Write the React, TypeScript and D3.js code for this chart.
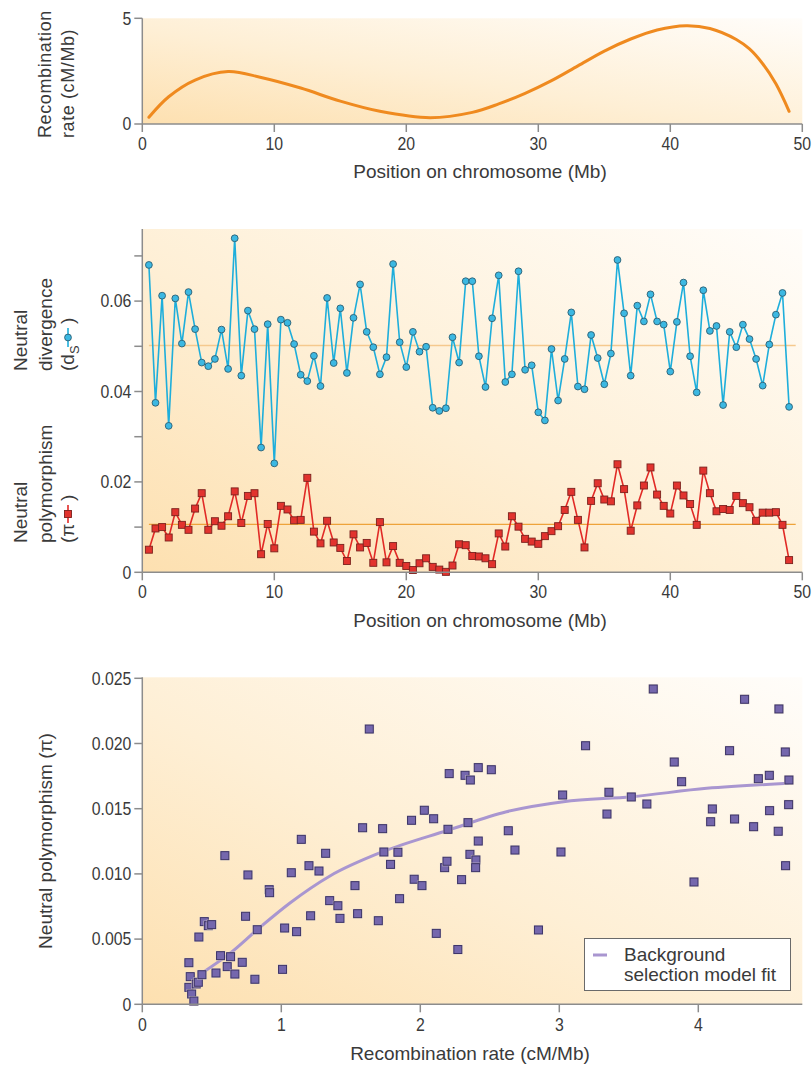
import React from 'react';
import * as d3 from 'd3';

// ---------- Panel a: recombination rate along chromosome ----------
const recombPos = [0.5, 2, 4, 6.5, 9, 12, 15, 18, 21.8, 25, 27, 29, 31, 33, 35, 37, 39, 41.2, 43, 45, 46, 47, 48, 49];
const recombRate = [0.32, 1.29, 2.08, 2.48, 2.2, 1.7, 1.08, 0.6, 0.3, 0.55, 0.95, 1.45, 2.05, 2.75, 3.45, 4.02, 4.45, 4.65, 4.52, 4.0, 3.55, 2.85, 1.9, 0.6];

// ---------- Panel b: divergence and polymorphism ----------
const positions = [
  0.5, 1, 1.5, 2, 2.5, 3, 3.5, 4, 4.5, 5, 5.5, 6, 6.5, 7, 7.5, 8, 8.5, 9, 9.5, 10,
  10.5, 11, 11.5, 12, 12.5, 13, 13.5, 14, 14.5, 15, 15.5, 16, 16.5, 17, 17.5, 18, 18.5, 19, 19.5, 20,
  20.5, 21, 21.5, 22, 22.5, 23, 23.5, 24, 24.5, 25, 25.5, 26, 26.5, 27, 27.5, 28, 28.5, 29, 29.5, 30,
  30.5, 31, 31.5, 32, 32.5, 33, 33.5, 34, 34.5, 35, 35.5, 36, 36.5, 37, 37.5, 38, 38.5, 39, 39.5, 40,
  40.5, 41, 41.5, 42, 42.5, 43, 43.5, 44, 44.5, 45, 45.5, 46, 46.5, 47, 47.5, 48, 48.5, 49,
];
const divergence = [
  0.0680, 0.0375, 0.0612, 0.0324, 0.0606, 0.0506, 0.0620, 0.0538, 0.0464, 0.0456,
  0.0472, 0.0537, 0.0450, 0.0739, 0.0435, 0.0579, 0.0538, 0.0276, 0.0549, 0.0241,
  0.0559, 0.0552, 0.0505, 0.0437, 0.0423, 0.0479, 0.0412, 0.0607, 0.0463, 0.0584,
  0.0441, 0.0563, 0.0637, 0.0532, 0.0498, 0.0438, 0.0476, 0.0682, 0.0509, 0.0454,
  0.0532, 0.0488, 0.0499, 0.0364, 0.0357, 0.0363, 0.0520, 0.0464, 0.0644, 0.0644,
  0.0478, 0.0410, 0.0562, 0.0657, 0.0421, 0.0438, 0.0666, 0.0448, 0.0458, 0.0354,
  0.0336, 0.0494, 0.0380, 0.0472, 0.0575, 0.0411, 0.0405, 0.0525, 0.0474, 0.0416,
  0.0484, 0.0691, 0.0573, 0.0435, 0.0590, 0.0555, 0.0615, 0.0555, 0.0548, 0.0444,
  0.0554, 0.0641, 0.0478, 0.0398, 0.0624, 0.0534, 0.0545, 0.0370, 0.0532, 0.0498,
  0.0548, 0.0516, 0.0472, 0.0413, 0.0504, 0.0570, 0.0618, 0.0366,
];
const polymorphism = [
  0.0050, 0.0097, 0.0100, 0.0077, 0.0133, 0.0105, 0.0094, 0.0141, 0.0175, 0.0094,
  0.0113, 0.0103, 0.0124, 0.0179, 0.0109, 0.0169, 0.0175, 0.0040, 0.0107, 0.0053,
  0.0147, 0.0139, 0.0115, 0.0116, 0.0209, 0.0090, 0.0064, 0.0114, 0.0066, 0.0054,
  0.0025, 0.0084, 0.0055, 0.0065, 0.0021, 0.0111, 0.0022, 0.0058, 0.0021, 0.0014,
  0.0005, 0.0020, 0.0031, 0.0012, 0.0006, 0.0001, 0.0015, 0.0062, 0.0060, 0.0036,
  0.0035, 0.0031, 0.0018, 0.0086, 0.0057, 0.0124, 0.0101, 0.0074, 0.0068, 0.0063,
  0.0080, 0.0091, 0.0102, 0.0138, 0.0178, 0.0116, 0.0055, 0.0158, 0.0197, 0.0161,
  0.0157, 0.0239, 0.0184, 0.0092, 0.0148, 0.0192, 0.0232, 0.0172, 0.0147, 0.0130,
  0.0192, 0.0170, 0.0151, 0.0105, 0.0225, 0.0175, 0.0135, 0.0140, 0.0138, 0.0169,
  0.0153, 0.0144, 0.0114, 0.0132, 0.0132, 0.0133, 0.0105, 0.0027,
];
const divergenceMean = 0.0502;
const polymorphismMean = 0.0106;

// ---------- Panel c: polymorphism vs recombination ----------
const scatterRate = [
  0.335, 0.345, 0.335, 0.355, 0.371, 0.388, 0.403, 0.429, 0.407, 0.446,
  0.475, 0.499, 0.530, 0.563, 0.611, 0.635, 0.666, 0.719, 0.743, 0.810,
  0.827, 0.594, 0.760, 0.913, 0.916, 1.009, 1.024, 1.110, 1.072, 1.144,
  1.199, 1.211, 1.271, 1.319, 1.348, 1.407, 1.422, 1.530, 1.549, 1.585,
  1.633, 1.698, 1.729, 1.738, 1.786, 1.839, 1.851, 1.937, 1.956, 2.012,
  2.029, 2.096, 2.115, 2.175, 2.192, 2.199, 2.208, 2.322, 2.360, 2.417,
  2.511, 2.343, 2.417, 2.633, 2.357, 2.400, 2.398, 2.297, 2.681, 3.012,
  3.024, 3.189, 3.357, 3.343, 3.518, 3.630, 3.676, 3.827, 3.880, 3.969,
  4.101, 4.089, 4.225, 4.261, 4.333, 4.398, 4.432, 4.511, 4.513, 4.580,
  4.575, 4.626, 4.652, 4.650, 4.628, 2.270, 2.850,
];
const scatterPi = [
  0.00319, 0.00212, 0.00130, 0.00079, 0.00025, 0.00156, 0.00169, 0.00227, 0.00516, 0.00634,
  0.00603, 0.00611, 0.00240, 0.00373, 0.00289, 0.00365, 0.00232, 0.00322, 0.00675, 0.00192,
  0.00572, 0.01140, 0.00992, 0.00879, 0.00856, 0.00268, 0.00585, 0.00557, 0.01009, 0.01265,
  0.01063, 0.00679, 0.01022, 0.01158, 0.00795, 0.00756, 0.00659, 0.00910, 0.00695, 0.01354,
  0.02111, 0.00641, 0.01347, 0.01168, 0.01073, 0.01166, 0.00810, 0.01411, 0.00959, 0.00910,
  0.01488, 0.01423, 0.00544, 0.01048, 0.01097, 0.01342, 0.01769, 0.01756, 0.01720, 0.01815,
  0.01799, 0.01393, 0.01252, 0.01331, 0.01150, 0.01107, 0.01048, 0.00956, 0.01183, 0.01168,
  0.01605, 0.01983, 0.01626, 0.01459, 0.01590, 0.01536, 0.02418, 0.01858, 0.01707, 0.00938,
  0.01498, 0.01400, 0.01945, 0.01421, 0.02339, 0.01362, 0.01730, 0.01756, 0.01485, 0.02265,
  0.01327, 0.01935, 0.01720, 0.01531, 0.01063, 0.00420, 0.00570,
];
const fitRate = [0.43, 0.63, 0.83, 1.06, 1.35, 1.73, 2.2, 2.62, 3.03, 3.52, 4.06, 4.65];
const fitPi = [0.0024, 0.0039, 0.00575, 0.00775, 0.00984, 0.0117, 0.01335, 0.01477, 0.01554, 0.01592, 0.01656, 0.01695];

const topTicksX = [0, 10, 20, 30, 40, 50];
const topTicksY = [0, 5];
const midTicksMajor = [0, 0.02, 0.04, 0.06];
const midTicksMinor = [0.01, 0.03, 0.05, 0.07];
const botTicksX = [0, 1, 2, 3, 4];
const botTicksY = [0, 0.005, 0.01, 0.015, 0.02, 0.025];

const TXT = '#3a3a3a';
const AX = '#8c8c8c';
const TITLE_FONT = '"Liberation Sans", Arial, sans-serif';
const TICK_FONT = '"Liberation Sans", Arial, sans-serif';

const L = 142.3;
const R = 802.3;

function Gradient({ id }: { id: string }) {
  return (
    <linearGradient id={id} x1="0" y1="1" x2="1" y2="0">
      <stop offset="0" stopColor="#fde0b0" />
      <stop offset="0.45" stopColor="#feefd5" />
      <stop offset="1" stopColor="#fffdfa" />
    </linearGradient>
  );
}

function TickText(props: any) {
  // slightly condensed numerals, like the reference
  const { x, y, anchor, children, dy } = props;
  return (
    <text
      transform={`translate(${x},${y}) scale(0.88,1)`}
      dy={dy}
      textAnchor={anchor}
      fontFamily={TICK_FONT}
      fontSize={18}
      fill={TXT}
    >
      {children}
    </text>
  );
}

export default function App() {
  // panel a
  const xa = d3.scaleLinear().domain([0, 50]).range([L, R]);
  const ya = d3.scaleLinear().domain([0, 5]).range([124, 18.3]);
  const recombLine = d3
    .line<number>()
    .x((_, i) => xa(recombPos[i]))
    .y((d) => ya(d))
    .curve(d3.curveCatmullRom.alpha(0.5))(recombRate) as string;

  // panel b
  const xb = d3.scaleLinear().domain([0, 50]).range([L, R]);
  const yb = d3.scaleLinear().domain([0, 0.01]).range([572.3, 527.1]);
  const yTopB = 229;
  const divLine = d3
    .line<number>()
    .x((_, i) => xb(positions[i]))
    .y((d) => yb(d))(divergence) as string;
  const polyLine = d3
    .line<number>()
    .x((_, i) => xb(positions[i]))
    .y((d) => yb(d))(polymorphism) as string;

  // panel c
  const xc = d3.scaleLinear().domain([0, 1]).range([L, L + 139]);
  const yc = d3.scaleLinear().domain([0, 0.025]).range([1004.3, 678.3]);
  const yTopC = 677.3;
  const fitLine = d3
    .line<number>()
    .x((_, i) => xc(fitRate[i]))
    .y((d) => yc(d))
    .curve(d3.curveMonotoneX)(fitPi) as string;

  const tickLen = 8;
  const sq = 7;
  const psq = 8;

  return (
    <svg
      width={812}
      height={1068}
      style={{ position: 'absolute', left: 0, top: 0, background: '#fff' }}
    >
      <defs>
        <Gradient id="ga" />
        <Gradient id="gb" />
        <Gradient id="gc" />
      </defs>

      {/* ================= Panel a ================= */}
      <rect x={L} y={ya(5)} width={R - L} height={ya(0) - ya(5)} fill="url(#ga)" />
      <path d={recombLine} fill="none" stroke="#ef8a1f" strokeWidth={3} strokeLinecap="round" />
      <line x1={L} x2={L} y1={ya(5)} y2={ya(0)} stroke={AX} strokeWidth={1.5} />
      <line x1={L} x2={R} y1={ya(0)} y2={ya(0)} stroke={AX} strokeWidth={1.5} />
      {topTicksY.map((t) => (
        <g key={'ay' + t}>
          <line x1={L - tickLen} x2={L} y1={ya(t)} y2={ya(t)} stroke={AX} strokeWidth={1.5} />
          <TickText x={L - 11} y={ya(t)} dy="0.35em" anchor="end">{t}</TickText>
        </g>
      ))}
      {topTicksX.map((t) => (
        <g key={'ax' + t}>
          <line x1={xa(t)} x2={xa(t)} y1={ya(0)} y2={ya(0) + tickLen} stroke={AX} strokeWidth={1.5} />
          <TickText x={xa(t)} y={ya(0) + 26} anchor="middle">{t}</TickText>
        </g>
      ))}
      <text x={480} y={178} textAnchor="middle" fontFamily={TITLE_FONT} fontSize={19} fill={TXT}>
        Position on chromosome (Mb)
      </text>
      <text transform="translate(51,138) rotate(-90)" fontFamily={TITLE_FONT} fontSize={18} fill={TXT} letterSpacing={0.6}>
        Recombination
      </text>
      <text transform="translate(74,138) rotate(-90)" fontFamily={TITLE_FONT} fontSize={18} fill={TXT} letterSpacing={0.6}>
        rate (cM/Mb)
      </text>

      {/* ================= Panel b ================= */}
      <rect x={L} y={yTopB} width={R - L} height={yb(0) - yTopB} fill="url(#gb)" />
      <line x1={xb(positions[0])} x2={xb(49.5)} y1={yb(divergenceMean)} y2={yb(divergenceMean)} stroke="#f5c98e" strokeWidth={1.5} />
      <line x1={xb(positions[0])} x2={xb(49.5)} y1={yb(polymorphismMean)} y2={yb(polymorphismMean)} stroke="#eea33a" strokeWidth={1.3} />
      <path d={divLine} fill="none" stroke="#1eaedb" strokeWidth={1.6} />
      {divergence.map((d, i) => (
        <circle key={'dv' + i} cx={xb(positions[i])} cy={yb(d)} r={3.4} fill="#3cb8e2" stroke="#2b5f73" strokeWidth={0.9} />
      ))}
      <path d={polyLine} fill="none" stroke="#e12a26" strokeWidth={1.6} />
      {polymorphism.map((d, i) => (
        <rect
          key={'pm' + i}
          x={xb(positions[i]) - sq / 2}
          y={yb(d) - sq / 2}
          width={sq}
          height={sq}
          fill="#e2332e"
          stroke="#7b211d"
          strokeWidth={0.9}
        />
      ))}
      <line x1={L} x2={L} y1={yTopB} y2={yb(0)} stroke={AX} strokeWidth={1.5} />
      <line x1={L} x2={R} y1={yb(0)} y2={yb(0)} stroke={AX} strokeWidth={1.5} />
      {midTicksMinor.map((t) => (
        <line key={'bm' + t} x1={L - tickLen} x2={L} y1={yb(t)} y2={yb(t)} stroke={AX} strokeWidth={1.5} />
      ))}
      {midTicksMajor.map((t) => (
        <g key={'by' + t}>
          <line x1={L - tickLen} x2={L} y1={yb(t)} y2={yb(t)} stroke={AX} strokeWidth={1.5} />
          <TickText x={L - 11} y={yb(t)} dy="0.35em" anchor="end">
            {t === 0 ? '0' : d3.format('.2f')(t)}
          </TickText>
        </g>
      ))}
      {topTicksX.map((t) => (
        <g key={'bx' + t}>
          <line x1={xb(t)} x2={xb(t)} y1={yb(0)} y2={yb(0) + tickLen} stroke={AX} strokeWidth={1.5} />
          <TickText x={xb(t)} y={yb(0) + 26} anchor="middle">{t}</TickText>
        </g>
      ))}
      <text x={480} y={627} textAnchor="middle" fontFamily={TITLE_FONT} fontSize={19} fill={TXT}>
        Position on chromosome (Mb)
      </text>
      {/* y labels */}
      <g fontFamily={TITLE_FONT} fontSize={19} fill={TXT}>
        <text transform="translate(27,371) rotate(-90)">Neutral</text>
        <text transform="translate(52,371) rotate(-90)">divergence</text>
        <g transform="translate(74,371) rotate(-90)">
          <text x={0} y={0}>
            (d<tspan fontSize={13} dy={5}>S</tspan>
          </text>
          <line x1={24} x2={43} y1={-6} y2={-6} stroke="#1eaedb" strokeWidth={1.6} />
          <circle cx={33.5} cy={-6} r={3.4} fill="#3cb8e2" stroke="#2b5f73" strokeWidth={0.9} />
          <text x={47} y={0}>)</text>
        </g>
        <text transform="translate(27,543) rotate(-90)">Neutral</text>
        <text transform="translate(52,543) rotate(-90)">polymorphism</text>
        <g transform="translate(74,543) rotate(-90)">
          <text x={0} y={0}>(π</text>
          <line x1={20} x2={38} y1={-6} y2={-6} stroke="#e12a26" strokeWidth={1.6} />
          <rect x={29 - 3.5} y={-6 - 3.5} width={7} height={7} fill="#e2332e" stroke="#7b211d" strokeWidth={0.9} />
          <text x={42} y={0}>)</text>
        </g>
      </g>

      {/* ================= Panel c ================= */}
      <rect x={L} y={yTopC} width={R - L} height={yc(0) - yTopC} fill="url(#gc)" />
      <path d={fitLine} fill="none" stroke="#a996d0" strokeWidth={3} />
      {scatterRate.map((r, i) => (
        <g key={'sc' + i}>
          <rect
            x={xc(r) - psq / 2 - 1}
            y={yc(scatterPi[i]) - psq / 2 - 1}
            width={psq + 2}
            height={psq + 2}
            fill="#ece3d3"
            opacity={0.7}
          />
          <rect
            x={xc(r) - psq / 2}
            y={yc(scatterPi[i]) - psq / 2}
            width={psq}
            height={psq}
            fill="#7567ad"
            stroke="#3b3266"
            strokeWidth={1}
          />
        </g>
      ))}
      <line x1={L} x2={L} y1={yTopC} y2={yc(0)} stroke={AX} strokeWidth={1.5} />
      <line x1={L} x2={R} y1={yc(0)} y2={yc(0)} stroke={AX} strokeWidth={1.5} />
      {botTicksY.map((t) => (
        <g key={'cy' + t}>
          <line x1={L - tickLen} x2={L} y1={yc(t)} y2={yc(t)} stroke={AX} strokeWidth={1.5} />
          <TickText x={L - 11} y={yc(t)} dy="0.35em" anchor="end">
            {t === 0 ? '0' : d3.format('.3f')(t)}
          </TickText>
        </g>
      ))}
      {botTicksX.map((t) => (
        <g key={'cx' + t}>
          <line x1={xc(t)} x2={xc(t)} y1={yc(0)} y2={yc(0) + tickLen} stroke={AX} strokeWidth={1.5} />
          <TickText x={xc(t)} y={yc(0) + 27} anchor="middle">{t}</TickText>
        </g>
      ))}
      <text x={470} y={1060} textAnchor="middle" fontFamily={TITLE_FONT} fontSize={19} fill={TXT}>
        Recombination rate (cM/Mb)
      </text>
      <text transform="translate(52,841) rotate(-90)" textAnchor="middle" fontFamily={TITLE_FONT} fontSize={19} fill={TXT}>
        Neutral polymorphism (π)
      </text>

      {/* legend */}
      <rect x={584.5} y={938.5} width={206} height={52} fill="#fff" stroke="#6a6a6a" strokeWidth={1} />
      <line x1={593} x2={607} y1={955} y2={955} stroke="#a996d0" strokeWidth={3} />
      <text x={624} y={961} fontFamily={TITLE_FONT} fontSize={19} fill={TXT}>
        Background
      </text>
      <text x={624} y={981} fontFamily={TITLE_FONT} fontSize={19} fill={TXT}>
        selection model fit
      </text>
    </svg>
  );
}
